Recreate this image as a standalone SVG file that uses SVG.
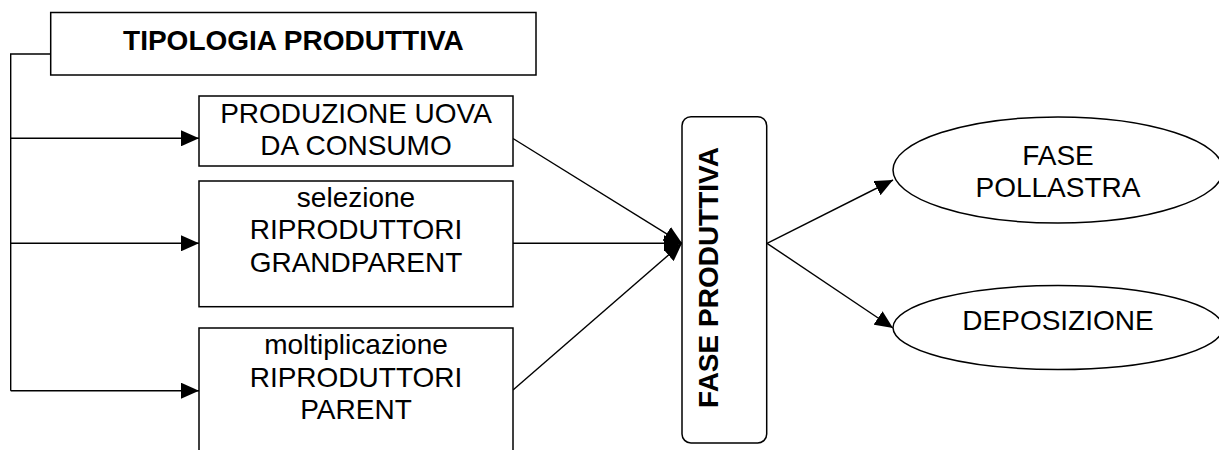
<svg xmlns="http://www.w3.org/2000/svg" width="1219" height="450" viewBox="0 0 1219 450">
<style>
.box{fill:#fff;stroke:#000;stroke-width:1.5}
.t{font-family:"Liberation Sans",Arial,sans-serif;font-size:28px;fill:#000;text-anchor:middle}
.b{font-weight:bold}
.c{fill:none;stroke:#000;stroke-width:1.4}
</style>
<defs>
<marker id="ah" markerUnits="userSpaceOnUse" markerWidth="18" markerHeight="16" refX="18" refY="8" orient="auto" viewBox="0 0 18 16">
<path d="M0,0 L18,8 L0,16 Z" fill="#000"/>
</marker>
</defs>
<g id="connectors">
<path class="c" d="M50.7,54 H10.7 V390.7"/>
<line class="c" x1="10.7" y1="138.3" x2="199" y2="138.3" marker-end="url(#ah)"/>
<line class="c" x1="10.7" y1="243.3" x2="199" y2="243.3" marker-end="url(#ah)"/>
<line class="c" x1="10.7" y1="390.7" x2="199" y2="390.7" marker-end="url(#ah)"/>
<line class="c" x1="513" y1="138.5" x2="682" y2="243.3" marker-end="url(#ah)"/>
<line class="c" x1="513" y1="243.3" x2="682" y2="243.3" marker-end="url(#ah)"/>
<line class="c" x1="513" y1="390" x2="682" y2="243.3" marker-end="url(#ah)"/>
<line class="c" x1="767" y1="243.3" x2="893" y2="180" marker-end="url(#ah)"/>
<line class="c" x1="767" y1="243.3" x2="893" y2="328" marker-end="url(#ah)"/>
</g>
<g id="tipologia">
<rect class="box" x="50.7" y="12.5" width="485.3" height="62.5"/>
<text class="t b" x="293.4" y="50">TIPOLOGIA PRODUTTIVA</text>
</g>
<g id="uova">
<rect class="box" x="199" y="96" width="314" height="70"/>
<text class="t" x="356" y="123">PRODUZIONE UOVA</text>
<text class="t" x="356" y="154.5">DA CONSUMO</text>
</g>
<g id="grandparent">
<rect class="box" x="199" y="181" width="314" height="125.7"/>
<text class="t" x="356" y="206.7">selezione</text>
<text class="t" x="356" y="239.3">RIPRODUTTORI</text>
<text class="t" x="356" y="271.7">GRANDPARENT</text>
</g>
<g id="parent">
<rect class="box" x="199" y="328" width="314" height="130"/>
<text class="t" x="356" y="354.3">moltiplicazione</text>
<text class="t" x="356" y="386.7">RIPRODUTTORI</text>
<text class="t" x="356" y="419">PARENT</text>
</g>
<g id="fase-produttiva">
<rect class="box" x="682" y="116.7" width="84.7" height="326.3" rx="9" ry="9"/>
<text class="t b" transform="translate(718.3,277.5) rotate(-90)" x="0" y="0">FASE PRODUTTIVA</text>
</g>
<g id="pollastra">
<ellipse class="box" cx="1058" cy="170" rx="165" ry="53"/>
<text class="t" x="1058" y="165">FASE</text>
<text class="t" x="1058" y="197.3">POLLASTRA</text>
</g>
<g id="deposizione">
<ellipse class="box" cx="1058" cy="327.5" rx="165" ry="42"/>
<text class="t" x="1058" y="330">DEPOSIZIONE</text>
</g>
</svg>
